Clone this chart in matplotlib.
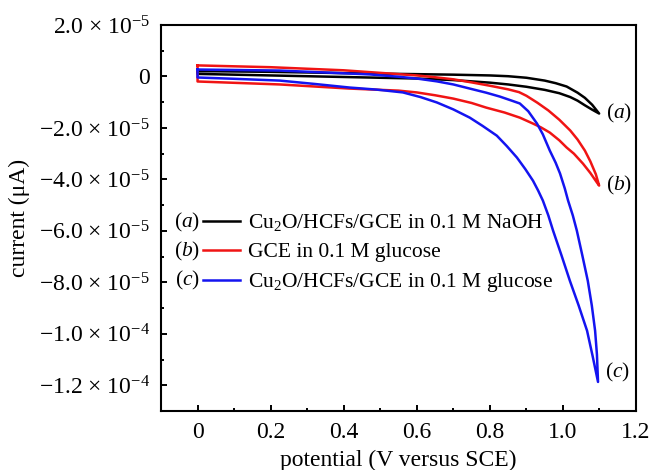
import matplotlib
matplotlib.use("Agg")
import matplotlib.pyplot as plt
from matplotlib.ticker import MultipleLocator

plt.rcParams['font.family'] = ['Liberation Serif', 'DejaVu Serif']
plt.rcParams['mathtext.fontset'] = 'custom'
plt.rcParams['mathtext.rm'] = 'Liberation Serif'
plt.rcParams['mathtext.it'] = 'Liberation Serif:italic'
plt.rcParams['mathtext.bf'] = 'Liberation Serif:bold'

# Cyclic voltammograms: potential (V vs SCE) and current (A) for each sweep branch
# (a) Cu2O/HCFs/GCE in 0.1 M NaOH
a_fwd_v = [0.0, 0.2, 0.4, 0.6, 0.7, 0.8, 0.85, 0.9, 0.95, 0.98, 1.01, 1.04, 1.06, 1.08, 1.099]
a_fwd_i = [2.1e-6, 1.8e-6, 1.3e-6, 0.9e-6, 0.7e-6, 0.4e-6, 0.1e-6, -0.5e-6, -1.6e-6, -2.6e-6,
           -3.9e-6, -6.3e-6, -8.3e-6, -11.0e-6, -14.4e-6]
a_rev_v = [1.099, 1.08, 1.06, 1.04, 1.02, 0.99, 0.95, 0.9, 0.85, 0.8, 0.7, 0.6, 0.4, 0.2, 0.0]
a_rev_i = [-14.4e-6, -12.9e-6, -11.2e-6, -9.4e-6, -8.0e-6, -6.5e-6, -5.2e-6, -4.0e-6, -3.1e-6,
           -2.4e-6, -1.4e-6, -0.8e-6, -0.2e-6, 0.4e-6, 1.0e-6]

# (b) GCE in 0.1 M glucose
b_fwd_v = [0.0, 0.2, 0.4, 0.5, 0.6, 0.65, 0.7, 0.75, 0.8, 0.85, 0.88, 0.9, 0.93, 0.96, 0.99,
           1.02, 1.04, 1.06, 1.075, 1.09, 1.099]
b_fwd_i = [4.3e-6, 3.6e-6, 2.4e-6, 1.4e-6, 0.4e-6, -0.3e-6, -1.1e-6, -2.3e-6, -3.6e-6, -5.0e-6,
           -6.1e-6, -7.5e-6, -10.2e-6, -13.2e-6, -16.8e-6, -21.0e-6, -24.5e-6, -28.8e-6,
           -33.0e-6, -38.0e-6, -42.4e-6]
b_rev_v = [1.099, 1.093, 1.075, 1.055, 1.03, 1.01, 0.99, 0.964, 0.94, 0.918, 0.882, 0.84, 0.79,
           0.75, 0.7, 0.65, 0.6, 0.55, 0.416, 0.225, 0.0]
b_rev_i = [-42.4e-6, -41.2e-6, -37.5e-6, -33.9e-6, -30.0e-6, -27.6e-6, -24.8e-6, -21.8e-6,
           -19.8e-6, -18.3e-6, -16.0e-6, -14.0e-6, -12.1e-6, -10.3e-6, -8.6e-6, -7.3e-6,
           -6.2e-6, -5.5e-6, -4.7e-6, -3.1e-6, -1.95e-6]

# (c) Cu2O/HCFs/GCE in 0.1 M glucose
c_fwd_v = [0.0, 0.225, 0.471, 0.55, 0.6, 0.655, 0.7, 0.745, 0.79, 0.827, 0.86, 0.882, 0.905,
           0.929, 0.945, 0.964, 0.98, 0.992, 1.005, 1.014, 1.027, 1.038, 1.053, 1.068, 1.079,
           1.088, 1.093, 1.096]
c_fwd_i = [2.7e-6, 2.3e-6, 0.8e-6, -0.1e-6, -0.8e-6, -1.9e-6, -3.1e-6, -4.7e-6, -6.3e-6,
           -7.8e-6, -9.4e-6, -10.5e-6, -13.5e-6, -18.3e-6, -22.5e-6, -28.8e-6, -33.5e-6,
           -37.7e-6, -43.5e-6, -48.2e-6, -54.0e-6, -59.9e-6, -69.5e-6, -79.4e-6, -89.0e-6,
           -98.8e-6, -108.0e-6, -118.7e-6]
c_rev_v = [1.096, 1.081, 1.066, 1.043, 1.019, 0.996, 0.973, 0.96, 0.945, 0.932, 0.918, 0.897,
           0.874, 0.846, 0.819, 0.78, 0.745, 0.7, 0.655, 0.61, 0.562, 0.49, 0.416, 0.32, 0.225,
           0.1, 0.0]
c_rev_i = [-118.7e-6, -108.5e-6, -98.8e-6, -89.0e-6, -79.4e-6, -69.5e-6, -59.9e-6, -54.0e-6,
           -48.2e-6, -44.3e-6, -40.5e-6, -36.0e-6, -31.5e-6, -27.0e-6, -23.0e-6, -19.2e-6,
           -16.0e-6, -12.8e-6, -10.1e-6, -8.0e-6, -6.2e-6, -5.1e-6, -4.3e-6, -2.9e-6, -1.6e-6,
           -0.9e-6, -0.4e-6]

series_tags = ['a', 'b', 'c']
series_labels = ['Cu$_2$O/HCFs/GCE in 0.1 M NaOH',
                 'GCE in 0.1 M glucose',
                 'Cu$_2$O/HCFs/GCE in 0.1 M glucose']
series_colors = ['#000000', '#f01414', '#1414f0']

y_ticks = [2e-5, 0, -2e-5, -4e-5, -6e-5, -8e-5, -1e-4, -1.2e-4]
y_tick_labels = ['2.0 × 10$^{-5}$', '0', '\u22122.0 × 10$^{-5}$', '\u22124.0 × 10$^{-5}$',
                 '\u22126.0 × 10$^{-5}$', '\u22128.0 × 10$^{-5}$', '\u22121.0 × 10$^{-4}$',
                 '\u22121.2 × 10$^{-4}$']
x_ticks = [0, 0.2, 0.4, 0.6, 0.8, 1.0, 1.2]
x_tick_labels = ['0', '0.2', '0.4', '0.6', '0.8', '1.0', '1.2']

TICK_FS = 17
LEG_FS = 15.5

fig = plt.figure(figsize=(6.5, 4.7), dpi=100)
ax = fig.add_axes([0.2477, 0.1255, 0.9785 - 0.2477, 0.9468 - 0.1255])

branches = [
    (a_fwd_v, a_fwd_i, a_rev_v, a_rev_i),
    (b_fwd_v, b_fwd_i, b_rev_v, b_rev_i),
    (c_fwd_v, c_fwd_i, c_rev_v, c_rev_i),
]
handles = []
for (fv, fi, rv, ri), col, lab in zip(branches, series_colors, series_labels):
    v = list(fv) + list(rv[1:]) + [fv[0]]
    i = list(fi) + list(ri[1:]) + [fi[0]]
    h, = ax.plot(v, i, color=col, lw=1.8, solid_joinstyle='round', label=lab)
    handles.append(h)

# curve tags next to the switching potential
tag_offsets = [(7, 0), (7, 0), (7, 9)]
for (fv, fi, rv, ri), tag, off in zip(branches, series_tags, tag_offsets):
    ax.annotate(f'(${tag}$)', xy=(fv[-1], fi[-1]), xytext=off, textcoords='offset pixels',
                ha='left', va='center', fontsize=LEG_FS)

ax.set_xlim(-0.1, 1.2)
ax.set_ylim(-1.3e-4, 2e-5)
ax.set_xticks(x_ticks, x_tick_labels)
ax.set_yticks(y_ticks, y_tick_labels)
ax.xaxis.set_minor_locator(MultipleLocator(0.1))
ax.yaxis.set_minor_locator(MultipleLocator(1e-5))
ax.tick_params(which='both', direction='in', top=False, right=False, width=1.4,
               labelsize=TICK_FS)
ax.tick_params(which='major', length=4.5)
ax.tick_params(which='minor', length=2.5)
ax.tick_params(axis='y', pad=8)
ax.tick_params(axis='x', pad=8)
for s in ax.spines.values():
    s.set_linewidth(1.5)

ax.set_xlabel('potential (V versus SCE)', fontsize=TICK_FS, labelpad=5)
ax.set_ylabel('current (μA)', fontsize=TICK_FS, labelpad=6)

leg = ax.legend(handles=handles, loc='upper left', bbox_to_anchor=(0.088, 0.515),
                frameon=False, fontsize=LEG_FS, handlelength=1.72, handletextpad=0.37,
                labelspacing=0.42, borderpad=0, borderaxespad=0)
row_y = [0.4896, 0.4145, 0.3394]
for tag, yy in zip(series_tags, row_y):
    ax.text(0.083, yy, f'(${tag}$)', transform=ax.transAxes, ha='right', va='center',
            fontsize=LEG_FS)

fig.savefig('out.png', dpi=100)
